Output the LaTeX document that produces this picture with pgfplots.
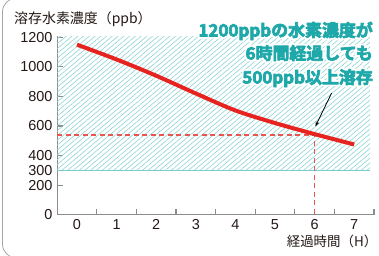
\documentclass[border=0pt]{standalone}
\usepackage{pgfplots}
\pgfplotsset{compat=1.18}
\usetikzlibrary{patterns.meta, arrows.meta}
\usepackage{fontspec}
\setmainfont{Liberation Sans}
\newfontfamily\jp{Noto Sans CJK JP}
\newfontfamily\jpann{Noto Sans CJK JP}[UprightFont=* Bold, FakeBold=4]
\newfontfamily\jpout{Noto Sans CJK JP}[UprightFont=* Bold, FakeBold=24]
\definecolor{hatch}{RGB}{140,210,210}
\definecolor{hatchline}{RGB}{120,205,205}
\definecolor{teal2}{RGB}{30,168,170}
\definecolor{lred}{RGB}{230,35,30}
\definecolor{dred}{RGB}{235,85,80}
\definecolor{axgray}{RGB}{140,140,140}
\definecolor{txt}{RGB}{35,24,21}
\definecolor{framec}{RGB}{165,165,165}
\newcommand\annline[2]{%
  \node[anchor=base east, inner sep=0pt, text=white, font=\jpout\fontsize{17}{20}\selectfont] at #1 {#2};
  \node[anchor=base east, inner sep=0pt, text=teal2, font=\jpann\fontsize{17}{20}\selectfont] at #1 {#2};}
\begin{document}
\begin{tikzpicture}[x=1bp,y=1bp]
\useasboundingbox (0,0) rectangle (379,256);
\draw[framec, line width=0.8bp, rounded corners=14bp] (40,-2) -- (2.5,-2) -- (2.5,258) -- (40,258);
\begin{axis}[
  at={(57.2bp,41.3bp)}, anchor=south west,
  scale only axis, width=316.8bp, height=178.9bp,
  xmin=-0.5, xmax=7.5, ymin=0, ymax=1210,
  clip=false,
  axis lines=left,
  axis line style={-, axgray, line width=1.4bp},
  tick style={axgray, line width=1.1bp},
  tick align=inside,
  major tick length=5.5bp,
  xtick={0.5,1.5,...,7.5}, xticklabels={},
  extra x ticks={0,1,...,7},
  extra x tick style={major tick length=0pt},
  ytick={0,200,400,600,800,1000,1200},
  extra y ticks={300},
  extra y tick style={major tick length=0pt},
  /pgf/number format/assume math mode=true,
  /pgf/number format/1000 sep={},
  x tick label style={font=\fontsize{14.5}{16}\selectfont, text=txt, inner sep=0pt, anchor=north, yshift=-4.5bp},
  y tick label style={font=\fontsize{14.5}{16}\selectfont, text=txt, inner sep=0pt, anchor=east, xshift=-4.5bp},
]
\addplot[draw=none, pattern={Lines[angle=40, distance=3.7bp, line width=0.6bp]}, pattern color=hatch] coordinates {(-0.5,300) (7.4,300) (7.4,1205) (-0.5,1205)} -- cycle;
\addplot[hatchline, line width=1bp] coordinates {(-0.5,300) (7.4,300)};
\addplot[dred, line width=1.3bp, dash pattern=on 5bp off 3.5bp] coordinates {(-0.5,540) (6,540) (6,0)};
\addplot[lred, line width=4bp, smooth] coordinates {(0,1150) (1,1050) (2,940) (3,820) (4,705) (5,620) (6,545) (7,475)};
\addplot[black, line width=0.8bp, -{Stealth[length=5bp,width=3.5bp]}] coordinates {(6.43,823) (6.02,597)};
\end{axis}
\node[anchor=west, inner sep=0pt, text=txt, font=\jp\fontsize{14}{16}\selectfont] at (14,237) {溶存水素濃度（ppb）};
\node[anchor=east, inner sep=0pt, text=txt, font=\jp\fontsize{13.5}{16}\selectfont] at (377.5,15) {経過時間（H）};
\annline{(373,219.5)}{1200ppbの水素濃度が}
\annline{(373,196.5)}{6時間経過しても}
\annline{(373,172.5)}{500ppb以上溶存}
\end{tikzpicture}
\end{document}
